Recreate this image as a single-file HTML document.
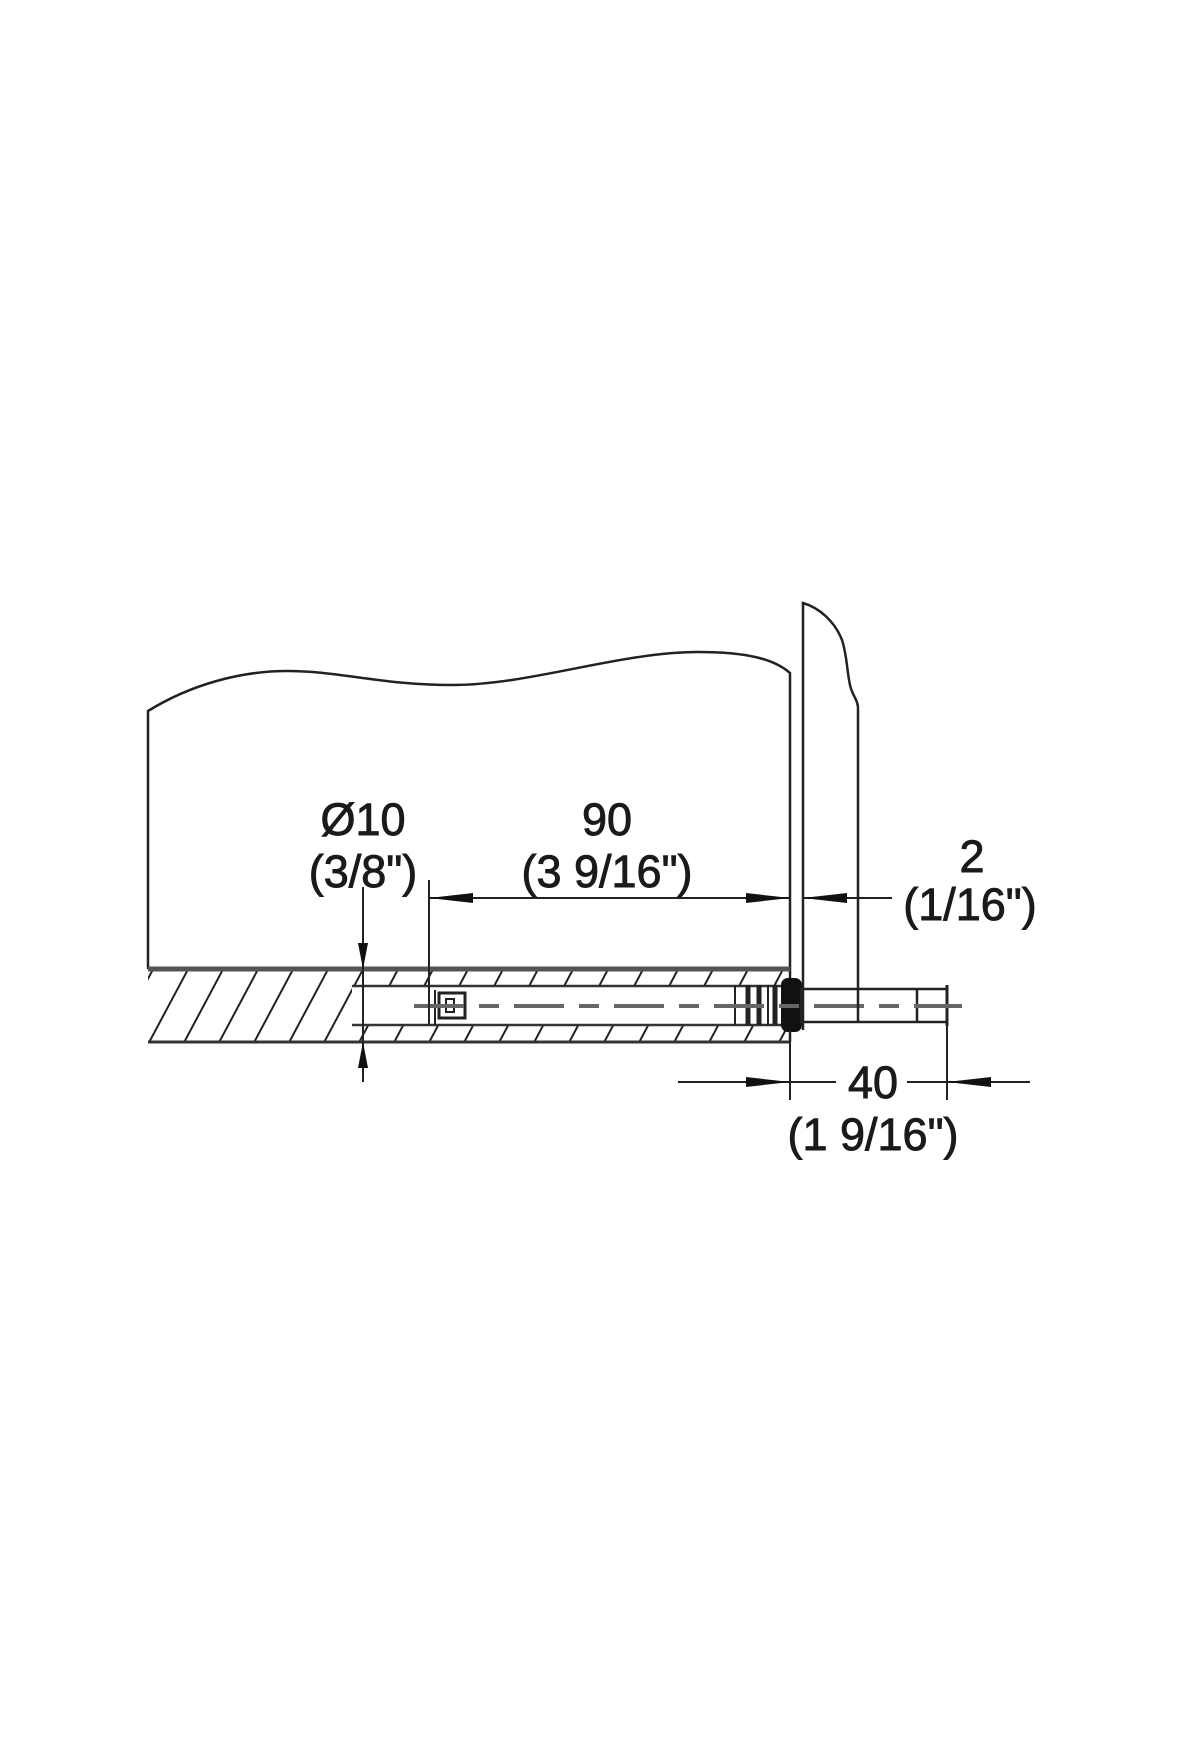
<!DOCTYPE html>
<html><head><meta charset="utf-8"><style>
html,body{margin:0;padding:0;background:#fff;}
svg{display:block;}
text{font-family:"Liberation Sans",Arial,sans-serif;font-size:45px;fill:#1a1a1a;stroke:#1a1a1a;stroke-width:0.9px;text-anchor:middle;}
</style></head><body>
<svg width="1200" height="1760" viewBox="0 0 1200 1760" xmlns="http://www.w3.org/2000/svg">
<defs>
<clipPath id="board"><path d="M148,969 H790 V1042 H148 Z M352,986 V1025 H790 V986 Z" clip-rule="evenodd"/></clipPath>
</defs>
<path d="M148,969 V711 C190,685 240,671 287,671 C340,671 380,685 453,685 C530,685 620,652 698,652 C750,652 775,660 790,673 V1042" fill="none" stroke="#222" stroke-width="2.5"/>
<g clip-path="url(#board)" stroke="#222" stroke-width="2">
<path d="M110,1050 L158,960 M145,1050 L193,960 M180,1050 L228,960 M215,1050 L263,960 M250,1050 L298,960 M285,1050 L333,960 M320,1050 L368,960 M355,1050 L403,960 M390,1050 L438,960 M425,1050 L473,960 M460,1050 L508,960 M495,1050 L543,960 M530,1050 L578,960 M565,1050 L613,960 M600,1050 L648,960 M635,1050 L683,960 M670,1050 L718,960 M705,1050 L753,960 M740,1050 L788,960 M775,1050 L823,960 M810,1050 L858,960"/>
</g>
<line x1="148" y1="969" x2="790" y2="969" stroke="#555" stroke-width="5"/>
<line x1="148" y1="1042" x2="790" y2="1042" stroke="#333" stroke-width="3"/>
<line x1="352" y1="986" x2="790" y2="986" stroke="#333" stroke-width="2.5"/>
<line x1="352" y1="1025" x2="790" y2="1025" stroke="#333" stroke-width="2.5"/>
<line x1="435" y1="990" x2="435" y2="1025" stroke="#222" stroke-width="2"/>
<rect x="439" y="993" width="26" height="25" fill="none" stroke="#222" stroke-width="3"/>
<rect x="446" y="999" width="8" height="13" fill="none" stroke="#222" stroke-width="2"/>
<g stroke="#222">
<line x1="735" y1="985" x2="735" y2="1025" stroke-width="2"/>
<line x1="748" y1="985" x2="748" y2="1025" stroke-width="5"/>
<line x1="759" y1="985" x2="759" y2="1025" stroke-width="5"/>
<line x1="768" y1="985" x2="768" y2="1025" stroke-width="2"/>
<line x1="775" y1="985" x2="775" y2="1025" stroke-width="5"/>
</g>
<rect x="781" y="978" width="21" height="54" rx="7" fill="#111"/>
<rect x="801" y="989" width="146" height="33" fill="none" stroke="#222" stroke-width="2.5"/>
<line x1="917" y1="989" x2="917" y2="1022" stroke="#222" stroke-width="2.5"/>
<line x1="947" y1="985" x2="947" y2="1026" stroke="#222" stroke-width="3"/>
<line x1="414" y1="1006" x2="962" y2="1006" stroke="#666" stroke-width="4" stroke-dasharray="50,15,20,15"/>
<path d="M803,1030 V603 C820,608 835,622 842,640 C847,655 847,672 850,685 C852,695 858,700 858,708 V1022" fill="none" stroke="#222" stroke-width="2.5"/>
<line x1="363" y1="887" x2="363" y2="1082" stroke="#222" stroke-width="2"/>
<path d="M363,969 L358,943 L368,943 Z" fill="#111"/>
<path d="M363,1042 L358,1068 L368,1068 Z" fill="#111"/>
<text x="363" y="835">Ø10</text>
<text x="363" y="887">(3/8")</text>
<line x1="429" y1="880" x2="429" y2="1025" stroke="#222" stroke-width="2"/>
<line x1="429" y1="898" x2="790" y2="898" stroke="#222" stroke-width="2"/>
<path d="M429,898 L473,893 L473,903 Z" fill="#111"/>
<path d="M790,898 L746,893 L746,903 Z" fill="#111"/>
<text x="607" y="835">90</text>
<text x="607" y="887">(3 9/16")</text>
<line x1="803" y1="898" x2="892" y2="898" stroke="#222" stroke-width="2"/>
<path d="M803,898 L847,893 L847,903 Z" fill="#111"/>
<text x="972" y="872">2</text>
<text x="970" y="920">(1/16")</text>
<line x1="790" y1="1030" x2="790" y2="1100" stroke="#222" stroke-width="2"/>
<line x1="947" y1="1022" x2="947" y2="1100" stroke="#222" stroke-width="2"/>
<line x1="678" y1="1082" x2="836" y2="1082" stroke="#222" stroke-width="2"/>
<line x1="907" y1="1082" x2="1030" y2="1082" stroke="#222" stroke-width="2"/>
<path d="M790,1082 L746,1077 L746,1087 Z" fill="#111"/>
<path d="M947,1082 L991,1077 L991,1087 Z" fill="#111"/>
<text x="873" y="1098">40</text>
<text x="873" y="1150">(1 9/16")</text>
</svg>
</body></html>
